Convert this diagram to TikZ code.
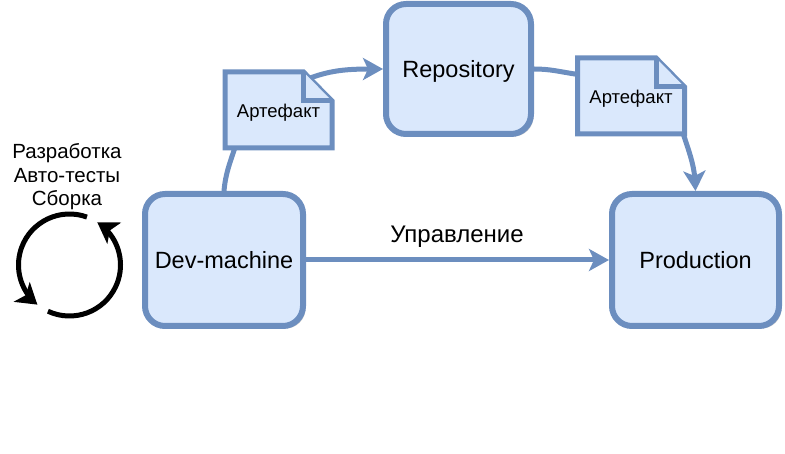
\documentclass[tikz,border=0pt]{standalone}
\usepackage{fontspec}
\setmainfont{Liberation Sans}
\usetikzlibrary{arrows.meta,bending,shadows,backgrounds}
\definecolor{boxfill}{HTML}{DAE8FC}
\definecolor{boxline}{HTML}{6C8EBF}

\begin{document}
\begin{tikzpicture}[x=1pt,y=1pt,
  every node/.style={inner sep=0pt,outer sep=0pt,text=black},
  hostbox/.style={draw=boxline,fill=boxfill,line width=6pt,rounded corners=20pt,outer sep=3pt,
    text depth=0pt,font=\fontsize{23.5}{28}\selectfont,
    drop shadow={shadow xshift=2.5pt,shadow yshift=-2.5pt,opacity=.4}},
  notebody/.style={draw=boxline,fill=boxfill,line width=5pt,miter limit=10},
  notetxt/.style={font=\fontsize{18.5}{22}\selectfont,minimum width=107pt,minimum height=76pt,
    text height=17pt,text depth=2pt},
  lbl/.style={font=\fontsize{20.5}{23.5}\selectfont,align=center},
  flow/.style={draw=boxline,line width=5pt,-{Stealth[length=20pt,width=22pt,inset=5pt]}},
  link/.style={draw=boxline,line width=5pt},
  cycle/.style={draw=black,line width=5pt,-{Stealth[length=20pt,width=25pt,inset=5pt,flex=0]}}]
\useasboundingbox (0,0) rectangle (785,453);

% ---- hosts ---------------------------------------------------------------
\node[hostbox,minimum width=158pt,minimum height=132pt] (devm) at (224,193) {Dev-machine};
\node[hostbox,minimum width=145pt,minimum height=130pt] (repo) at (458.5,384) {Repository};
\node[hostbox,minimum width=167pt,minimum height=132pt] (prod) at (695.5,193) {Production};

% ---- artefact notes ------------------------------------------------------
\foreach \x/\y/\nm in {278.5/343/artl, 631/357/artr} {
  \draw[notebody] (\x-53.5,\y+38) -- (\x+25,\y+38) -- (\x+53.5,\y+9) -- (\x+53.5,\y-38)
    -- (\x-53.5,\y-38) -- cycle;
  \draw[notebody] (\x+25,\y+38) -- (\x+25,\y+9) -- (\x+53.5,\y+9);
  \node[notetxt] (\nm) at (\x,\y) {Артефакт};
}
\coordinate (artlout) at (305,373);

% ---- flows ---------------------------------------------------------------
\begin{pgfonlayer}{background}
\draw[link] (devm.north) to[out=85,in=252] (artl.221);
\draw[flow] (artlout) to[out=22,in=180] (repo.west);
\draw[link] (repo.east) to[out=0,in=172] (artr.158);
\draw[flow] (artr.324) to[out=-72,in=90] (prod.north);
\end{pgfonlayer}
\draw[flow] (devm.east) -- (prod.west);
\node[font=\fontsize{24}{28}\selectfont] (ctrl) at (457,216) {Управление};

% ---- dev cycle -----------------------------------------------------------
\node[lbl] (work) at (67,276) {Разработка\\Авто-тесты\\Сборка};
\coordinate (hub) at (69.5,188);
\draw[cycle] (hub) ++(70:51) arc[start angle=70,end angle=231,radius=51];
\draw[cycle] (hub) ++(245:51) arc[start angle=245,end angle=417,radius=51];
\end{tikzpicture}
\end{document}
